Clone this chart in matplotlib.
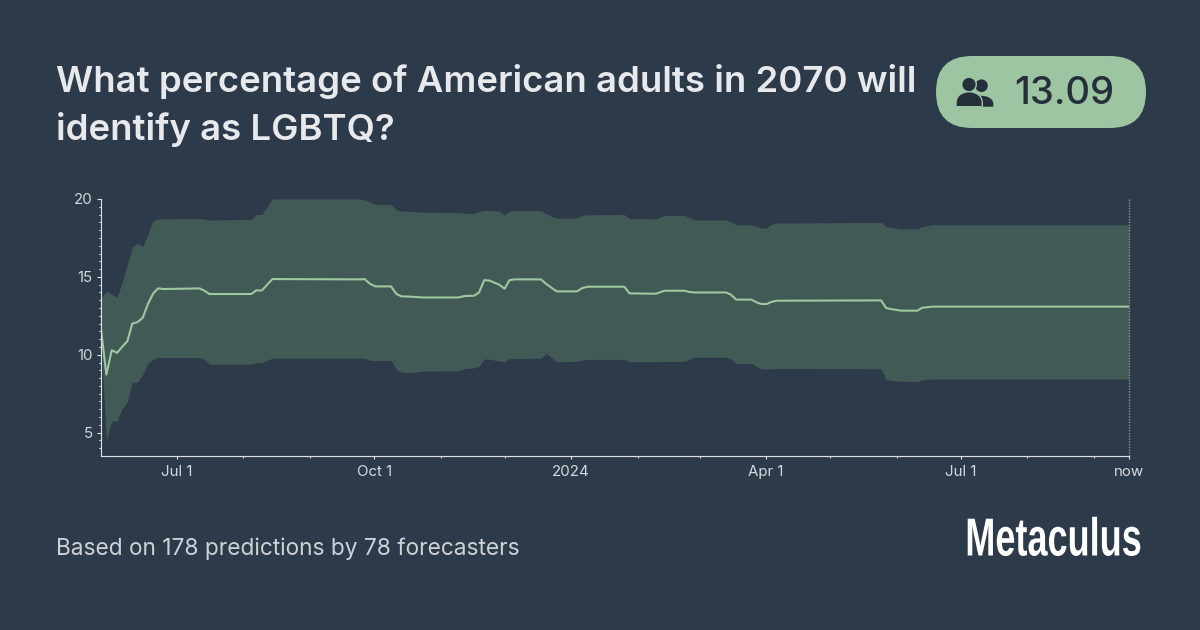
#! /usr/bin/python3

import datetime
import matplotlib
matplotlib.use('Agg')
import matplotlib.pyplot as plt
from matplotlib.patches import Circle, FancyBboxPatch, PathPatch
from matplotlib.path import Path
from matplotlib.patheffects import AbstractPathEffect
from matplotlib.transforms import Affine2D

BG = '#2d3a4a'
BAND = '#425a55'
GREEN = '#9fc7a1'
PILL = '#9dc5a1'
DARK = '#252e3b'
TEXT = '#e7e9ec'
AXIS = '#dfe2e6'

TITLE_LINES = ['What percentage of American adults in 2070 will', 'identify as LGBTQ?']
FOOTER = 'Based on 178 predictions by 78 forecasters'
CURRENT = '13.09'

# days after 2023-07-01
days = [-35.5, -33, -30.5, -28, -25.7, -23.2, -20.9, -18.4, -16, -13.6, -11.2, -8.9, -6.2,
        10.6, 12.8, 15.1, 34.7, 36.9, 39.6, 44.5, 85.7, 87.6, 90, 92.6, 99.9, 102.4, 104.8,
        109.1, 114.6, 131.7, 134, 138.7, 141, 143.4, 145.7, 150.4, 152.9, 155.2, 157.6,
        169.9, 172.4, 177.2, 186.7, 189.2, 191.7, 208.8, 211.2, 223.6, 227.5, 236.8, 239.2,
        241.5, 256.3, 258.6, 261, 268.1, 270.6, 272.8, 275.3, 277.6, 280, 328.7, 331, 333.4,
        338, 345.6, 347.9, 352.6, 365, 444.4]
median = [11.66, 8.73, 10.29, 10.12, 10.5, 10.87, 12.0, 12.1, 12.38, 13.26, 13.92, 14.26, 14.22,
          14.26, 14.11, 13.9, 13.9, 14.13, 14.13, 14.86, 14.84, 14.86, 14.56, 14.39, 14.39, 13.9, 13.75,
          13.73, 13.68, 13.68, 13.77, 13.79, 14.0, 14.79, 14.77, 14.5, 14.24, 14.79, 14.84,
          14.84, 14.54, 14.07, 14.07, 14.28, 14.37, 14.37, 13.94, 13.92, 14.11, 14.11, 14.03,
          14.0, 14.0, 13.86, 13.54, 13.54, 13.36, 13.26, 13.26, 13.4, 13.47, 13.49, 13.0, 12.93,
          12.83, 12.83, 13.02, 13.09, 13.09, 13.09]
lower = [11.0, 4.47, 5.75, 5.75, 6.5, 6.98, 8.24, 8.24, 8.73, 9.48, 9.7, 9.82, 9.82,
         9.82, 9.7, 9.4, 9.4, 9.48, 9.5, 9.78, 9.78, 9.78, 9.65, 9.63, 9.63, 9.05, 8.88,
         8.86, 8.95, 8.97, 9.1, 9.16, 9.27, 9.72, 9.72, 9.6, 9.52, 9.76, 9.76,
         9.78, 10.08, 9.55, 9.57, 9.65, 9.7, 9.7, 9.55, 9.55, 9.57, 9.57, 9.7,
         9.84, 9.84, 9.72, 9.44, 9.44, 9.27, 9.08, 9.08, 9.1, 9.12, 9.1, 8.41, 8.35,
         8.3, 8.28, 8.39, 8.44, 8.44, 8.44]
upper = [13.64, 14.07, 13.9, 13.68, 14.64, 15.78, 16.9, 17.16, 16.95, 17.76, 18.6, 18.72, 18.72,
         18.74, 18.7, 18.66, 18.68, 19.0, 19.0, 20.0, 20.0, 19.94, 19.79, 19.64, 19.64, 19.3, 19.23,
         19.21, 19.15, 19.13, 19.08, 19.08, 19.21, 19.27, 19.27, 19.23, 18.98, 19.23, 19.27,
         19.25, 19.04, 18.76, 18.78, 18.95, 18.98, 19.0, 18.74, 18.72, 18.95, 18.95, 18.8,
         18.66, 18.66, 18.53, 18.34, 18.34, 18.25, 18.14, 18.14, 18.38, 18.46, 18.49, 18.23, 18.16,
         18.08, 18.08, 18.23, 18.34, 18.34, 18.34]

major_tick_dates = ['2023-07-01', '2023-10-01', '2024-01-01', '2024-04-01', '2024-07-01']
major_tick_labels = ['Jul 1', 'Oct 1', '2024', 'Apr 1', 'Jul 1', 'now']
minor_tick_dates = ['2023-08-01', '2023-09-01', '2023-11-01', '2023-12-01', '2024-02-01',
                    '2024-03-01', '2024-05-01', '2024-06-01', '2024-08-01', '2024-09-01']
y_major = [5, 10, 15, 20]
y_minor = [4, 4.5, 5.5, 6, 6.5, 7, 7.5, 8, 8.5, 9, 9.5, 10.5, 11, 11.5, 12, 12.5, 13, 13.5, 14, 14.5,
           15.5, 16, 16.5, 17, 17.5, 18, 18.5, 19, 19.5]


class Squeeze(AbstractPathEffect):
    # no condensed face is installed, so narrow the glyphs around their middle when drawing
    def __init__(self, sx):
        super().__init__()
        self.sx = sx

    def draw_path(self, renderer, gc, tpath, affine, rgbFace=None):
        ext = tpath.get_extents()
        mid = (ext.x0 + ext.x1) / 2
        squeeze = Affine2D().translate(-mid, 0).scale(self.sx, 1).translate(mid, 0)
        renderer.draw_path(gc, tpath, squeeze + affine, rgbFace)


def toDate(day):
    return datetime.datetime(2023, 7, 1) + datetime.timedelta(days=day)


def parseDate(s):
    return datetime.datetime.strptime(s, '%Y-%m-%d')


def drawIcon(page):
    rear = Path([(981, 106.7), (981, 103), (981, 99), (977, 96), (984, 95), (993.3, 97), (993.3, 104),
                 (993.3, 106.7), (981, 106.7)],
                [Path.MOVETO, Path.LINETO, Path.CURVE3, Path.CURVE3, Path.CURVE4, Path.CURVE4, Path.CURVE4,
                 Path.LINETO, Path.CLOSEPOLY])
    front = Path([(956, 106.7), (956, 103), (956, 95), (963, 91.7), (969, 91.7), (975, 91.7), (982.3, 95),
                  (982.3, 103), (982.3, 106.7), (956, 106.7)],
                 [Path.MOVETO, Path.LINETO, Path.CURVE4, Path.CURVE4, Path.CURVE4, Path.CURVE4, Path.CURVE4,
                  Path.CURVE4, Path.LINETO, Path.CLOSEPOLY])
    page.add_patch(Circle((981.5, 85.7), 6.3, fc=DARK, ec='none'))
    page.add_patch(PathPatch(rear, fc=DARK, ec='none'))
    page.add_patch(Circle((969, 84.5), 7.3, fc=DARK, ec=PILL, lw=1))
    page.add_patch(PathPatch(front, fc=DARK, ec=PILL, lw=1))


def main():
    fig = plt.figure(figsize=(12, 6.3), dpi=100, facecolor=BG)

    # page layer in pixel coordinates for the header and footer
    page = fig.add_axes([0, 0, 1, 1])
    page.set_xlim(0, 1200)
    page.set_ylim(630, 0)
    page.axis('off')

    page.text(56, 92, TITLE_LINES[0], family='Inter', fontsize=26.3, fontweight=600, color=TEXT)
    page.text(56, 140, TITLE_LINES[1], family='Inter', fontsize=26.3, fontweight=600, color=TEXT)
    page.text(56, 555, FOOTER, family='Inter', fontsize=16.35, color='#ced2d7')

    page.add_patch(FancyBboxPatch((972, 92), 138, 0, boxstyle='round,pad=36,rounding_size=36', fc=PILL, ec='none'))
    drawIcon(page)
    page.text(1014, 104, CURRENT, family='Inter', fontsize=27.5, fontweight=500, color=DARK)

    page.text(1053.5, 555.5, 'Metaculus', family='Liberation Sans', fontsize=38.5, fontweight='bold', ha='center',
              color='#ffffff', path_effects=[Squeeze(0.675)])

    # chart
    ax = fig.add_axes([101 / 1200, 1 - 456 / 630, 1028 / 1200, 257 / 630])
    ax.patch.set_alpha(0)
    dates = [toDate(d) for d in days]
    ax.fill_between(dates, lower, upper, color=BAND, lw=0)
    ax.plot(dates, median, color=GREEN, lw=1.5)

    now = dates[-1]
    ax.set_xlim(dates[0], now)
    ax.set_ylim(3.5, 20)
    ax.axvline(now, color='#8a929c', lw=1, ls=(0, (1, 1)), clip_on=False)

    ax.set_xticks([parseDate(s) for s in major_tick_dates] + [now])
    ax.set_xticklabels(major_tick_labels)
    ax.set_xticks([parseDate(s) for s in minor_tick_dates], minor=True)
    ax.set_yticks(y_major)
    ax.set_yticks(y_minor, minor=True)

    for s in ['top', 'right']:
        ax.spines[s].set_visible(False)
    for s in ['left', 'bottom']:
        ax.spines[s].set_color(AXIS)
        ax.spines[s].set_linewidth(0.8)

    ax.tick_params(axis='y', which='major', length=3, width=0.8, color=AXIS, labelcolor='#d4d8dc',
                   labelsize=10.8, pad=3)
    ax.tick_params(axis='y', which='minor', length=1.5, width=0.8, color=AXIS)
    ax.tick_params(axis='x', which='major', length=2.2, width=0.8, color=AXIS, labelcolor='#d4d8dc',
                   labelsize=10.8, pad=4)
    ax.tick_params(axis='x', which='minor', length=1.2, width=0.8, color=AXIS)
    for label in ax.get_xticklabels() + ax.get_yticklabels():
        label.set_family('Inter')

    plt.savefig('out.png', facecolor=BG)


if __name__ == '__main__':
    main()
